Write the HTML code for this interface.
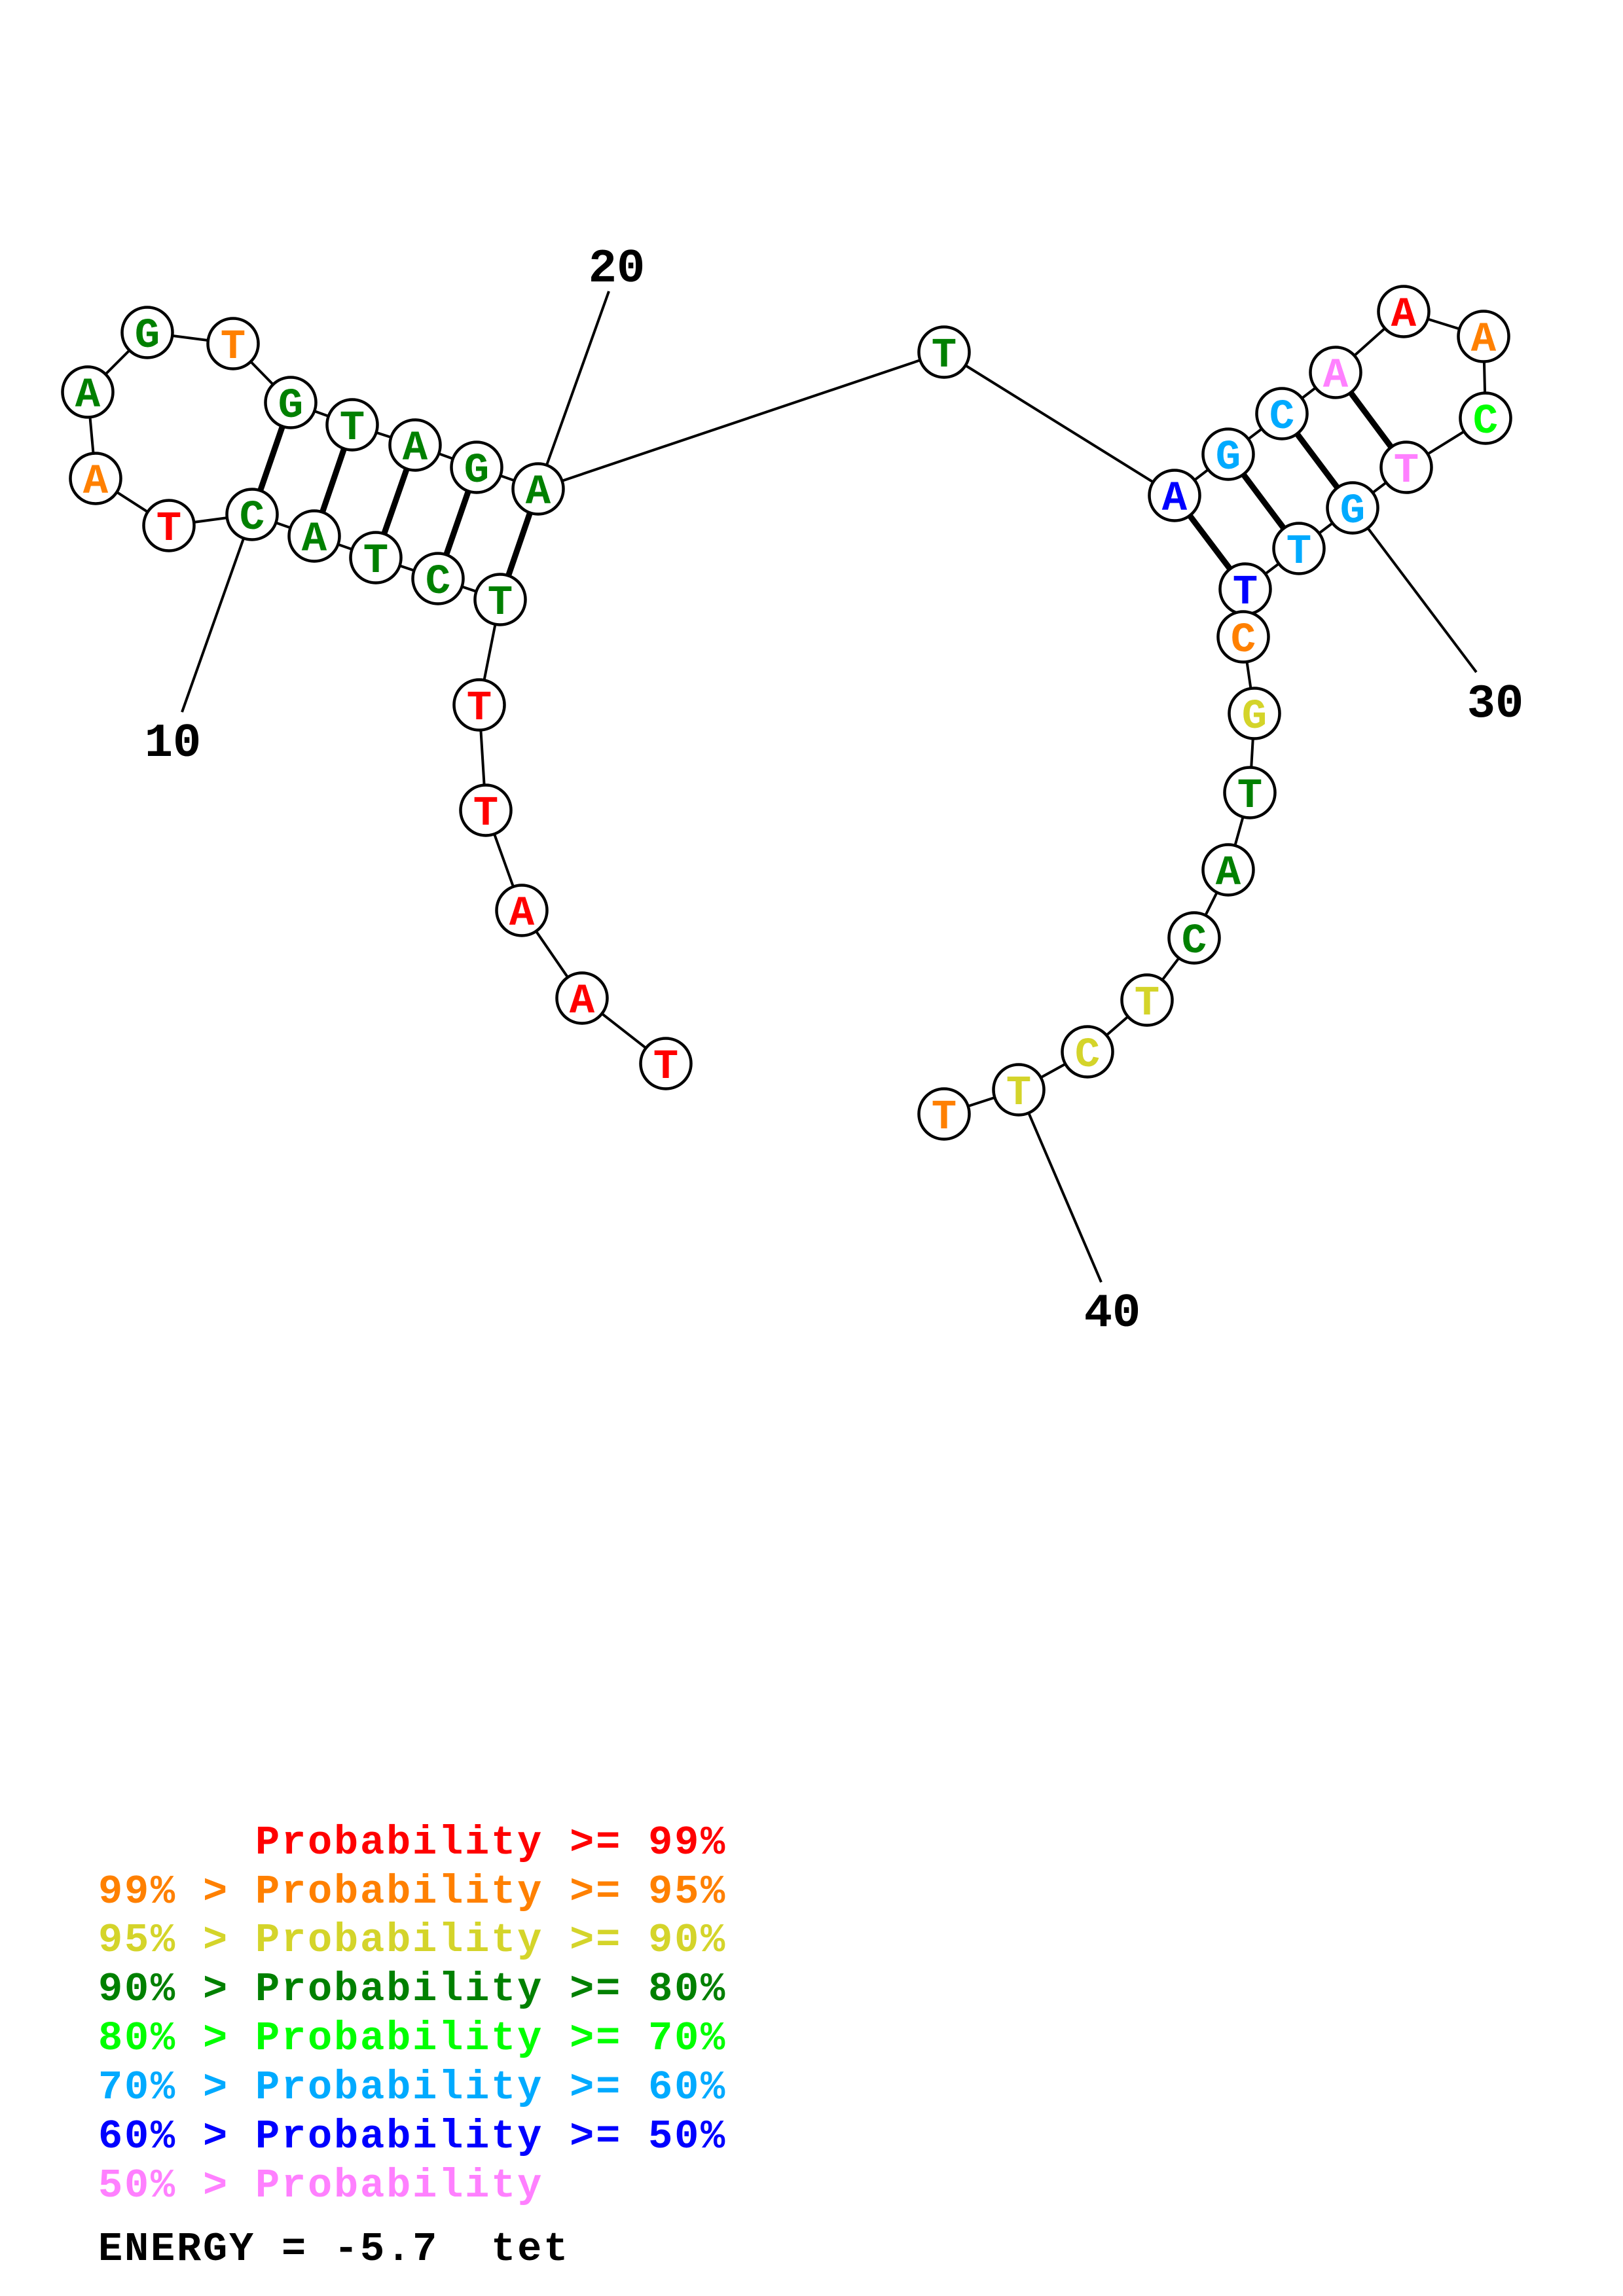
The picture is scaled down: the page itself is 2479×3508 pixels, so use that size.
<!DOCTYPE html>
<html>
<head>
<meta charset="utf-8">
<style>
  html,body{margin:0;padding:0;background:#fff;}
  svg{display:block;}
  .n{font-family:"Liberation Mono",monospace;font-weight:bold;font-size:64px;text-anchor:middle;}
  .lbl{font-family:"Liberation Mono",monospace;font-weight:bold;font-size:72px;text-anchor:middle;fill:#000;}
  .lg{font-family:"Liberation Mono",monospace;font-weight:bold;font-size:62px;letter-spacing:2.8px;white-space:pre;}
</style>
</head>
<body>
<svg width="2479" height="3508" viewBox="0 0 2479 3508" xmlns="http://www.w3.org/2000/svg">
<rect width="2479" height="3508" fill="#fff"/>
<g stroke="#000" stroke-width="4" fill="none">
<polyline points="1017,1625 889,1525 797,1391 742,1238 732,1077 764,916 669,884 574,852 480,819 385,786 258,803 146,731 134,599 225,508 356,525 444,615 538,649 634,680 728,714 822,747 1442,538 1794,757 1876,694 1958,632 2040,569 2144,476 2266,514 2269,639 2148,714 2066,776 1984,838 1902,900 1899,973 1916,1090 1909,1211 1876,1329 1824,1433 1752,1528 1661,1607 1556,1665 1442,1702"/>
<line x1="822" y1="747" x2="930" y2="445"/>
<line x1="385" y1="786" x2="278" y2="1088"/>
<line x1="2066" y1="776" x2="2255" y2="1027"/>
<line x1="1556" y1="1665" x2="1682" y2="1959"/>
</g>
<g stroke="#000" stroke-width="9">
<line x1="444" y1="615" x2="385" y2="786"/>
<line x1="538" y1="649" x2="480" y2="819"/>
<line x1="634" y1="680" x2="574" y2="852"/>
<line x1="728" y1="714" x2="669" y2="884"/>
<line x1="822" y1="747" x2="764" y2="916"/>
<line x1="1794" y1="757" x2="1902" y2="900"/>
<line x1="1876" y1="694" x2="1984" y2="838"/>
<line x1="1958" y1="632" x2="2066" y2="776"/>
<line x1="2040" y1="569" x2="2148" y2="714"/>
</g>
<g stroke="#000" stroke-width="4.5" fill="#fff">
<circle cx="1017" cy="1625" r="38.5"/>
<circle cx="889" cy="1525" r="38.5"/>
<circle cx="797" cy="1391" r="38.5"/>
<circle cx="742" cy="1238" r="38.5"/>
<circle cx="732" cy="1077" r="38.5"/>
<circle cx="764" cy="916" r="38.5"/>
<circle cx="669" cy="884" r="38.5"/>
<circle cx="574" cy="852" r="38.5"/>
<circle cx="480" cy="819" r="38.5"/>
<circle cx="385" cy="786" r="38.5"/>
<circle cx="258" cy="803" r="38.5"/>
<circle cx="146" cy="731" r="38.5"/>
<circle cx="134" cy="599" r="38.5"/>
<circle cx="225" cy="508" r="38.5"/>
<circle cx="356" cy="525" r="38.5"/>
<circle cx="444" cy="615" r="38.5"/>
<circle cx="538" cy="649" r="38.5"/>
<circle cx="634" cy="680" r="38.5"/>
<circle cx="728" cy="714" r="38.5"/>
<circle cx="822" cy="747" r="38.5"/>
<circle cx="1442" cy="538" r="38.5"/>
<circle cx="1794" cy="757" r="38.5"/>
<circle cx="1876" cy="694" r="38.5"/>
<circle cx="1958" cy="632" r="38.5"/>
<circle cx="2040" cy="569" r="38.5"/>
<circle cx="2144" cy="476" r="38.5"/>
<circle cx="2266" cy="514" r="38.5"/>
<circle cx="2269" cy="639" r="38.5"/>
<circle cx="2148" cy="714" r="38.5"/>
<circle cx="2066" cy="776" r="38.5"/>
<circle cx="1984" cy="838" r="38.5"/>
<circle cx="1902" cy="900" r="38.5"/>
<circle cx="1899" cy="973" r="38.5"/>
<circle cx="1916" cy="1090" r="38.5"/>
<circle cx="1909" cy="1211" r="38.5"/>
<circle cx="1876" cy="1329" r="38.5"/>
<circle cx="1824" cy="1433" r="38.5"/>
<circle cx="1752" cy="1528" r="38.5"/>
<circle cx="1661" cy="1607" r="38.5"/>
<circle cx="1556" cy="1665" r="38.5"/>
<circle cx="1442" cy="1702" r="38.5"/>
</g>
<g class="n">
<text x="1017" y="1647" fill="#FF0000">T</text>
<text x="889" y="1547" fill="#FF0000">A</text>
<text x="797" y="1413" fill="#FF0000">A</text>
<text x="742" y="1260" fill="#FF0000">T</text>
<text x="732" y="1099" fill="#FF0000">T</text>
<text x="764" y="938" fill="#008000">T</text>
<text x="669" y="906" fill="#008000">C</text>
<text x="574" y="874" fill="#008000">T</text>
<text x="480" y="841" fill="#008000">A</text>
<text x="385" y="808" fill="#008000">C</text>
<text x="258" y="825" fill="#FF0000">T</text>
<text x="146" y="753" fill="#FF8000">A</text>
<text x="134" y="621" fill="#008000">A</text>
<text x="225" y="530" fill="#008000">G</text>
<text x="356" y="547" fill="#FF8000">T</text>
<text x="444" y="637" fill="#008000">G</text>
<text x="538" y="671" fill="#008000">T</text>
<text x="634" y="702" fill="#008000">A</text>
<text x="728" y="736" fill="#008000">G</text>
<text x="822" y="769" fill="#008000">A</text>
<text x="1442" y="560" fill="#008000">T</text>
<text x="1794" y="779" fill="#0000FF">A</text>
<text x="1876" y="716" fill="#00AAFF">G</text>
<text x="1958" y="654" fill="#00AAFF">C</text>
<text x="2040" y="591" fill="#FF80FF">A</text>
<text x="2144" y="498" fill="#FF0000">A</text>
<text x="2266" y="536" fill="#FF8000">A</text>
<text x="2269" y="661" fill="#00FF00">C</text>
<text x="2148" y="736" fill="#FF80FF">T</text>
<text x="2066" y="798" fill="#00AAFF">G</text>
<text x="1984" y="860" fill="#00AAFF">T</text>
<text x="1902" y="922" fill="#0000FF">T</text>
<text x="1899" y="995" fill="#FF8000">C</text>
<text x="1916" y="1112" fill="#D4D42A">G</text>
<text x="1909" y="1233" fill="#008000">T</text>
<text x="1876" y="1351" fill="#008000">A</text>
<text x="1824" y="1455" fill="#008000">C</text>
<text x="1752" y="1550" fill="#D4D42A">T</text>
<text x="1661" y="1629" fill="#D4D42A">C</text>
<text x="1556" y="1687" fill="#D4D42A">T</text>
<text x="1442" y="1724" fill="#FF8000">T</text>
</g>
<g class="lbl">
<text x="942" y="430">20</text>
<text x="264" y="1155">10</text>
<text x="2284" y="1095">30</text>
<text x="1699" y="2026">40</text>
</g>
<g class="lg">
<text x="390" y="2832" fill="#FF0000">Probability &gt;= 99%</text>
<text x="150" y="2907" fill="#FF8000">99% &gt; Probability &gt;= 95%</text>
<text x="150" y="2981" fill="#D4D42A">95% &gt; Probability &gt;= 90%</text>
<text x="150" y="3056" fill="#008000">90% &gt; Probability &gt;= 80%</text>
<text x="150" y="3131" fill="#00FF00">80% &gt; Probability &gt;= 70%</text>
<text x="150" y="3206" fill="#00AAFF">70% &gt; Probability &gt;= 60%</text>
<text x="150" y="3281" fill="#0000FF">60% &gt; Probability &gt;= 50%</text>
<text x="150" y="3356" fill="#FF80FF">50% &gt; Probability</text>
<text x="150" y="3453" fill="#000000" xml:space="preserve">ENERGY = -5.7 &#160;tet</text>
</g>
</svg>
</body>
</html>
